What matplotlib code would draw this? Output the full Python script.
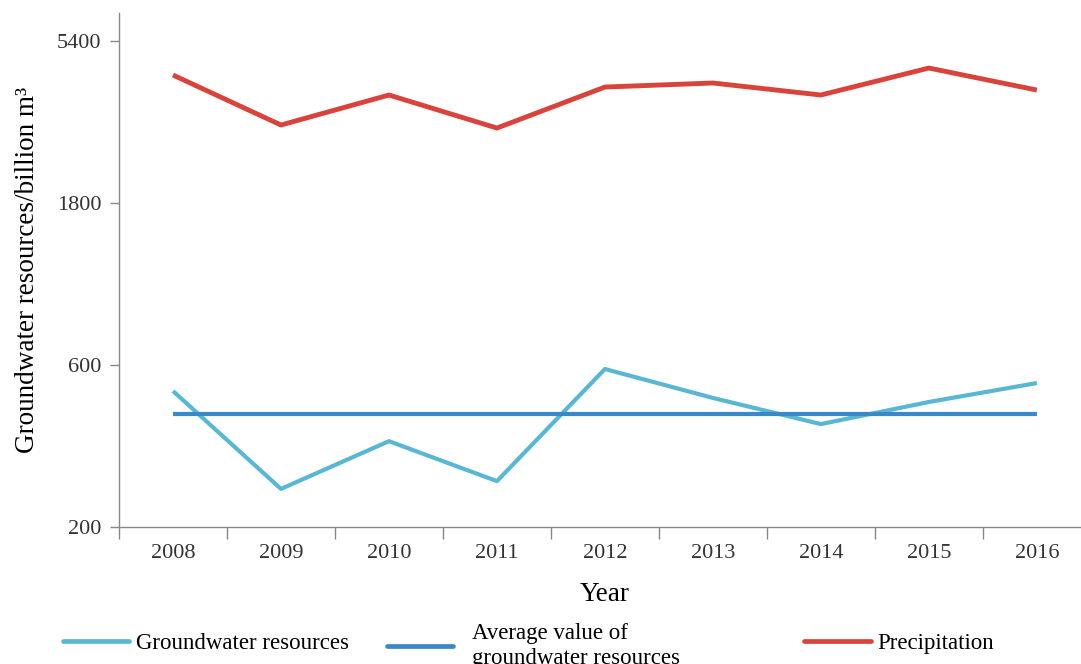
import numpy as np
import matplotlib
matplotlib.use("Agg")
import matplotlib.pyplot as plt
from matplotlib.ticker import FixedLocator, NullLocator, FuncFormatter
from matplotlib.lines import Line2D

# Annual series, billion m3
years = ["2008", "2009", "2010", "2011", "2012", "2013", "2014", "2015", "2016"]
groundwater = [503, 259, 358, 273, 584, 480, 402, 467, 531]
groundwater_avg = 430
precipitation = [4290, 3056, 3746, 2994, 3954, 4064, 3746, 4498, 3874]
y_ticks = [200, 600, 1800, 5400]

c_ground = "#5ab7d3"
c_avg = "#3b88c6"
c_precip = "#d8443b"

plt.rcParams["font.family"] = ["Liberation Serif", "DejaVu Serif"]

fig = plt.figure(figsize=(10.81, 6.64), dpi=100)
ax = fig.add_axes([0.1101, 0.2063, 0.899, 0.774])

x = np.arange(len(years))
ax.plot(x, groundwater, color=c_ground, lw=3.0, solid_capstyle="butt")
ax.plot(x, [groundwater_avg] * len(years), color=c_avg, lw=3.0, solid_capstyle="butt")
ax.plot(x, precipitation, color=c_precip, lw=3.5, solid_capstyle="butt")

# log axis, ticks spaced by a factor of 3
ax.set_yscale("log")
ax.set_ylim(200, 6530)
ax.yaxis.set_major_locator(FixedLocator(y_ticks))
ax.yaxis.set_minor_locator(NullLocator())
ax.yaxis.set_major_formatter(FuncFormatter(lambda v, p: f"{v:.0f}"))

# category axis: labels in the middle, tick marks on the band edges
ax.set_xlim(-0.5, len(years) - 0.5)
ax.set_xticks(x)
ax.set_xticklabels(years)
ax.set_xticks(np.arange(len(years) + 1) - 0.5, minor=True)
ax.tick_params(axis="x", which="major", length=0, pad=12, labelsize=16, labelcolor="#333333")
ax.tick_params(axis="x", which="minor", length=8.5, width=1, color="#888888", direction="out")
ax.tick_params(axis="y", length=6.5, width=1, color="#888888", labelsize=16,
               labelcolor="#333333", pad=6)

for side in ["top", "right"]:
    ax.spines[side].set_visible(False)
for side in ["left", "bottom"]:
    ax.spines[side].set_color("#888888")
    ax.spines[side].set_linewidth(1.0)

ax.set_xlabel("Year", fontsize=19.5, labelpad=14)
ax.set_ylabel("Groundwater resources/billion m³", fontsize=19.5, labelpad=12)

# legend entries laid out along the bottom
entries = [
    (c_ground, "Groundwater resources", 0.058, 0.0316, 0.3),
    (c_avg, "Average value of\ngroundwater resources", 0.358, 0.027, 0.8),
    (c_precip, "Precipitation", 0.744, 0.0316, 0.3),
]
for color, label, xpos, ypos, pad in entries:
    h = Line2D([], [], color=color, lw=3.4, solid_capstyle="round")
    fig.legend([h], [label], loc="center left", bbox_to_anchor=(xpos, ypos),
               frameon=False, fontsize=16.5, handlelength=2.9, handletextpad=pad,
               borderaxespad=0, borderpad=0, labelspacing=0)

fig.savefig("out.png", dpi=100)
